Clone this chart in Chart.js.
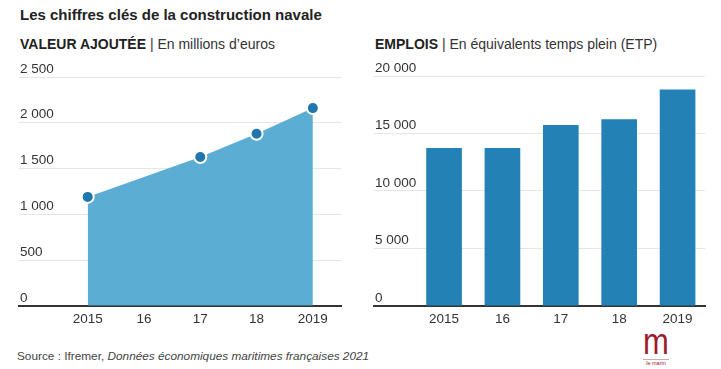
<!DOCTYPE html>
<html lang="fr">
<head>
<meta charset="utf-8">
<script src="https://cdn.jsdelivr.net/npm/chart.js@4"></script>
<style>
  body { margin: 0; background: #fff; font-family: "Liberation Sans", Arial, sans-serif; color: #333; }
  #page { position: relative; width: 721px; height: 369px; overflow: hidden; }
  .abs { position: absolute; white-space: nowrap; }
  #title { left: 20px; top: 6px; font-size: 15px; line-height: 18px; font-weight: bold; color: #222; }
  .sub { top: 36px; font-size: 14px; line-height: 16px; color: #333; }
  .sub b { color: #222; }
  #source { left: 17px; top: 349px; font-size: 11.8px; line-height: 14px; color: #444; }
  #logo { left: 640px; top: 332px; width: 32px; text-align: center; color: #9e1b2c; }
  #logo .m { font-family: "Liberation Sans", sans-serif; font-size: 31px; line-height: 26px;
             transform: scale(1, 1.2); transform-origin: center bottom; }
  #logo .t { font-size: 5.5px; line-height: 6px; border-top: 1px solid #d0a8ae; margin: 1px 3px 0; }
  canvas { position: absolute; }
</style>
</head>
<body>
<div id="page">
  <div id="title" class="abs">Les chiffres clés de la construction navale</div>
  <div class="abs sub" style="left:20px"><b>VALEUR AJOUTÉE</b> | En millions d’euros</div>
  <div class="abs sub" style="left:375px"><b>EMPLOIS</b> | En équivalents temps plein (ETP)</div>
  <div id="source" class="abs">Source : Ifremer, <i>Données économiques maritimes françaises 2021</i></div>
  <div id="logo" class="abs"><div class="m">m</div><div class="t">le marin</div></div>
  <canvas id="valeur" style="left:0;top:55px" width="350" height="277"></canvas>
  <canvas id="emplois" style="left:360px;top:55px" width="355" height="277"></canvas>
</div>
<script>
// data
const years = [2015, 2016, 2017, 2018, 2019];
const yearLabels = ["2015", "16", "17", "18", "2019"];
const valeurYears = [2015, 2017, 2018, 2019];
const valeurAjoutee = [1190, 1625, 1880, 2160];
const emplois = [13700, 13700, 15700, 16200, 18800];
const valeurTicks = [0, 500, 1000, 1500, 2000, 2500];
const emploisTicks = [0, 5000, 10000, 15000, 20000];

const tickFont = { family: "Liberation Sans", size: 13.5 };

function fmt(v) {
    return String(v).replace(/\B(?=(\d{3})+(?!\d))/g, " ");
}

function xScale(min, max) {
    return {
        type: "linear",
        min: min,
        max: max,
        offset: false,
        afterBuildTicks: axis => { axis.ticks = years.map(y => ({ value: y })); },
        ticks: {
            color: "#333",
            font: tickFont,
            padding: 5,
            maxRotation: 0,
            autoSkip: false,
            callback: v => yearLabels[years.indexOf(v)]
        },
        grid: { display: false, drawTicks: false, offset: false },
        border: { display: true, color: "#333", width: 2 }
    };
}

function yScale(tickValues) {
    return {
        min: tickValues[0],
        max: tickValues[tickValues.length - 1],
        afterBuildTicks: axis => { axis.ticks = tickValues.map(v => ({ value: v })); },
        ticks: {
            mirror: true,
            padding: 1,
            labelOffset: -8,
            color: "#333",
            font: tickFont,
            callback: v => fmt(v)
        },
        grid: { color: "#e6e6e6", lineWidth: 1, drawTicks: false },
        border: { display: false }
    };
}

const common = {
    responsive: false,
    animation: false,
    plugins: { legend: { display: false }, tooltip: { enabled: false } }
};

// Valeur ajoutée: area chart
new Chart(document.getElementById("valeur").getContext("2d"), {
    type: "line",
    data: {
        datasets: [{
            data: valeurYears.map((y, i) => ({ x: y, y: valeurAjoutee[i] })),
            fill: "origin",
            backgroundColor: "#5badd3",
            borderColor: "#5badd3",
            borderWidth: 0,
            tension: 0,
            pointRadius: 6,
            pointBackgroundColor: "#2077ad",
            pointBorderColor: "#fff",
            pointBorderWidth: 2
        }]
    },
    options: {
        ...common,
        layout: { padding: { left: 17, right: 9, top: 22, bottom: 0 } },
        scales: {
            x: xScale(2013.78, 2019.5),
            y: yScale(valeurTicks)
        }
    }
});

// Emplois: bars
new Chart(document.getElementById("emplois").getContext("2d"), {
    type: "bar",
    data: {
        datasets: [{
            data: years.map((y, i) => ({ x: y, y: emplois[i] })),
            backgroundColor: "#2381b5",
            barThickness: 35
        }]
    },
    options: {
        ...common,
        layout: { padding: { left: 12, right: 10, top: 21, bottom: 0 } },
        scales: {
            x: xScale(2013.8, 2019.47),
            y: yScale(emploisTicks)
        }
    }
});
</script>
</body>
</html>
